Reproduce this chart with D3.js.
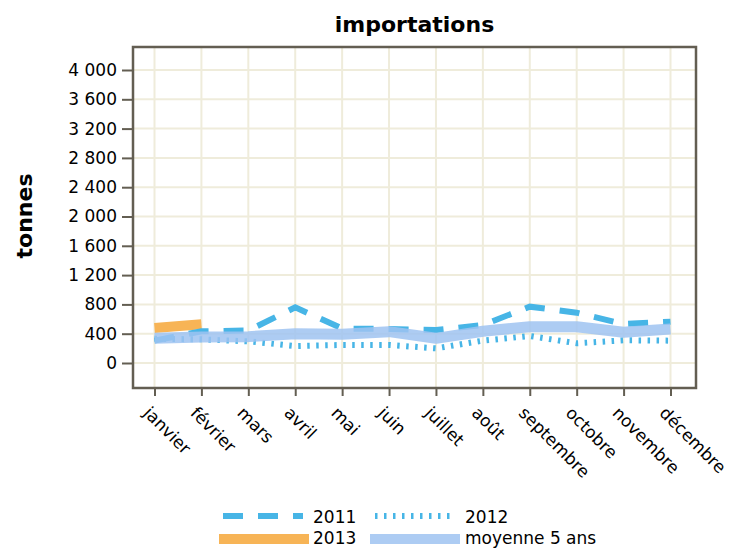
<!DOCTYPE html>
<html>
<head>
<meta charset="utf-8">
<script src="https://cdn.jsdelivr.net/npm/d3@7/dist/d3.min.js"></script>
<style>
  html, body { margin: 0; padding: 0; background: #ffffff; }
  svg { display: block; font-family: "DejaVu Sans", sans-serif; }
</style>
</head>
<body>
<svg id="chart" width="732" height="549"></svg>
<script>
const months = ["janvier","février","mars","avril","mai","juin","juillet","août","septembre","octobre","novembre","décembre"];
const values2011 = [305, 433, 444, 760, 470, 464, 450, 519, 769, 687, 532, 564];
const values2012 = [330, 323, 296, 232, 246, 246, 200, 305, 369, 269, 310, 305];
const values2013 = [478, 528];
const valuesMoyenne = [337, 355, 360, 400, 391, 428, 337, 433, 496, 496, 419, 464];
const yTicks = [0, 400, 800, 1200, 1600, 2000, 2400, 2800, 3200, 3600, 4000];
const titleText = "importations";
const yTitle = "tonnes";
const legendItems = ["2011", "2012", "2013", "moyenne 5 ans"];

const svg = d3.select("#chart");
const frame = { left: 133, top: 47, right: 696, bottom: 388 };

const x = d3.scalePoint().domain(months).range([154.5, 670.5]);
const y = d3.scaleLinear().domain([0, 4000]).range([363, 70]);

const loc = d3.formatLocale({ decimal: ",", thousands: "\u00a0", grouping: [3], currency: ["", " €"] });
const fmt = loc.format(",d");

const gridColor = "#efecdb";
const frameColor = "#635e52";
const blue = "#47b5e6";
const lightBlue = "#9fc3f1";
const orange = "#f7b456";

// grid
const grid = svg.append("g");
grid.selectAll("line.v").data(months).join("line")
  .attr("x1", d => x(d)).attr("x2", d => x(d))
  .attr("y1", frame.top).attr("y2", frame.bottom)
  .attr("stroke", gridColor).attr("stroke-width", 2);
grid.selectAll("line.h").data(yTicks).join("line")
  .attr("x1", frame.left).attr("x2", frame.right)
  .attr("y1", d => y(d)).attr("y2", d => y(d))
  .attr("stroke", gridColor).attr("stroke-width", 2);

// axes
const yAxis = d3.axisLeft(y).tickValues(yTicks).tickFormat(fmt).tickSize(11).tickPadding(5);
const gy = svg.append("g").attr("transform", `translate(${frame.left},0)`).call(yAxis);
gy.select(".domain").remove();
gy.selectAll(".tick line").attr("stroke", frameColor).attr("stroke-width", 2);
gy.selectAll(".tick text").attr("font-size", 17).attr("fill", "#000").attr("font-family", "DejaVu Sans, sans-serif");

const xAxis = d3.axisBottom(x).tickSize(8).tickFormat("");
const gx = svg.append("g").attr("transform", `translate(0,${frame.bottom})`).call(xAxis);
gx.select(".domain").remove();
gx.selectAll(".tick line").attr("stroke", frameColor).attr("stroke-width", 2);

svg.append("g").selectAll("text").data(months).join("text")
  .attr("transform", d => `translate(${x(d) - 12},${414}) rotate(45)`)
  .attr("text-anchor", "start")
  .attr("font-size", 17)
  .attr("fill", "#000")
  .text(d => d);

// lines
const line = vals => d3.line().x((d, i) => x(months[i])).y(d => y(d))(vals);

svg.append("path").attr("d", line(values2013))
  .attr("fill", "none").attr("stroke", orange).attr("stroke-width", 10);

svg.append("path").attr("d", line(values2011))
  .attr("fill", "none").attr("stroke", blue).attr("stroke-width", 6)
  .attr("stroke-dasharray", "20,15");

svg.append("path").attr("d", line(values2012))
  .attr("fill", "none").attr("stroke", blue).attr("stroke-width", 6)
  .attr("stroke-dasharray", "2.5,6.5");

svg.append("path").attr("d", line(valuesMoyenne))
  .attr("fill", "none").attr("stroke", lightBlue).attr("stroke-width", 11)
  .attr("stroke-opacity", 0.85).attr("stroke-linejoin", "round");

// frame
svg.append("rect")
  .attr("x", frame.left).attr("y", frame.top)
  .attr("width", frame.right - frame.left).attr("height", frame.bottom - frame.top)
  .attr("fill", "none").attr("stroke", frameColor).attr("stroke-width", 2.5);

// title
svg.append("text").attr("x", (frame.left + frame.right) / 2).attr("y", 32)
  .attr("text-anchor", "middle").attr("font-size", 22).attr("font-weight", "bold")
  .text(titleText);

svg.append("text").attr("transform", "translate(32,216) rotate(-90)")
  .attr("text-anchor", "middle").attr("font-size", 22).attr("font-weight", "bold")
  .text(yTitle);

// legend
const leg = svg.append("g");
const legendRows = [
  { x1: 223, x2: 303, y: 516, tx: 313, ty: 523, label: legendItems[0], color: blue, w: 6, dash: "20,15", op: 1 },
  { x1: 375, x2: 455, y: 516, tx: 465, ty: 523, label: legendItems[1], color: blue, w: 6, dash: "2.5,6.5", op: 1 },
  { x1: 219, x2: 309, y: 539, tx: 313, ty: 544, label: legendItems[2], color: orange, w: 10, dash: null, op: 1 },
  { x1: 370, x2: 460, y: 539, tx: 465, ty: 544, label: legendItems[3], color: lightBlue, w: 10, dash: null, op: 0.85 }
];
legendRows.forEach(r => {
  leg.append("line").attr("x1", r.x1).attr("x2", r.x2).attr("y1", r.y).attr("y2", r.y)
    .attr("stroke", r.color).attr("stroke-width", r.w).attr("stroke-opacity", r.op)
    .attr("stroke-dasharray", r.dash);
  leg.append("text").attr("x", r.tx).attr("y", r.ty).attr("font-size", 17).text(r.label);
});
</script>
</body>
</html>
